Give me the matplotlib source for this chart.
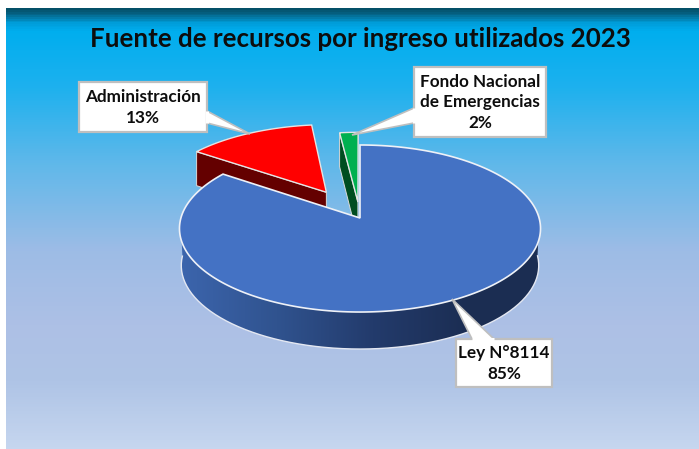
import numpy as np
import matplotlib
matplotlib.use("Agg")
import matplotlib.pyplot as plt
from matplotlib.colors import LinearSegmentedColormap
from matplotlib.patches import Polygon, Rectangle

# ------------------- data -------------------
title = "Fuente de recursos por ingreso utilizados 2023"
categories = ["Ley N°8114", "Administración", "Fondo Nacional\nde Emergencias"]
shares = [84.7, 13.4, 1.9]          # percent
explode = [0.0, 0.38, 0.2]
face_colors = ["#4472c4", "#ff0000", "#00b050"]
wall_colors = ["#1b2d52", "#640000", "#004d20"]

# picture geometry, in pixels
W, H = 699, 449
APEX_X, APEX_Y = 360.0, 218.0
RX, RY, PERSP = 179.1, 82.2, 0.1258
DEPTH = 37


def project(u, v, drop=0.0):
    # tilted disk coordinates -> pixels, the far side comes out smaller
    w = 1 + PERSP * v
    x = APEX_X + RX * u / w
    y = APEX_Y - RY * v / w
    if drop:
        x = APEX_X + (x - APEX_X) * 0.99
        y = y + drop
    return np.column_stack([x, y])


def slice_rim(start, end, exp):
    # angles in degrees clockwise from 12 o'clock
    mid = np.radians((start + end) / 2)
    off_u, off_v = exp * np.sin(mid), exp * np.cos(mid)
    t = np.radians(np.linspace(start, end, 240))
    return np.sin(t) + off_u, np.cos(t) + off_v, off_u, off_v


plt.rcParams["font.family"] = ["Lato", "DejaVu Sans"]
fig = plt.figure(figsize=(W / 100, H / 100), dpi=100)
ax = fig.add_axes([0, 0, 1, 1])
ax.axis("off")

# background gradient with the dark band along the top
bg = LinearSegmentedColormap.from_list("bg", [
    (0.0, "#045068"), (0.012, "#04668a"), (0.03, "#009cd8"), (0.05, "#00aeef"),
    (0.18, "#1eb1ee"), (0.35, "#5fb8ea"), (0.55, "#9dbce6"), (0.72, "#adc0e5"),
    (0.85, "#afc4e6"), (1.0, "#c6d6ef")])
grad = np.linspace(0, 1, 441).reshape(-1, 1)
ax.imshow(grad, cmap=bg, extent=[6, W, H, 8], aspect="auto", zorder=0)

# slice angles from the shares
edges = np.concatenate([[0], np.cumsum(shares)]) * 3.6

# red and green slices first, the blue one lies over their walls
for i in [1, 2]:
    us, vs, ou, ov = slice_rim(edges[i], edges[i + 1], explode[i])
    rim = project(us, vs)
    apex = project(np.array([ou]), np.array([ov]))
    # cut face along the first edge, it is the one facing the viewer
    wall = np.vstack([rim[0], apex, apex + [0, DEPTH], rim[0] + [0, DEPTH - 3]])
    ax.add_patch(Polygon(wall, closed=True, fc=wall_colors[i], ec="#d9d9d9", lw=0.7, zorder=2))
    ax.add_patch(Polygon(np.vstack([apex, rim]), closed=True, fc=face_colors[i],
                         ec="#e4e4e4", lw=1.0, zorder=3))

# blue slice: outer wall is a horizontal gradient clipped to the rim band
us, vs, ou, ov = slice_rim(edges[0], edges[1], explode[0])
top = project(us, vs)
low = project(us, vs, DEPTH)
front = vs < 0.0
band = Polygon(np.vstack([top[front], low[front][::-1]]), closed=True, fc="none", ec="none",
               transform=ax.transData)
ax.add_patch(band)
shade = LinearSegmentedColormap.from_list("shade", ["#3c65ad", "#30538f", "#233b6c", wall_colors[0]])
wall_img = ax.imshow(np.linspace(0, 1, 256).reshape(1, -1), cmap=shade, extent=[180, 470, 360, 200],
                     aspect="auto", zorder=4)
wall_img.set_clip_path(band)
# right of the gradient stays the darkest colour
dark_img = ax.imshow([[0]], cmap=LinearSegmentedColormap.from_list("d", [wall_colors[0]] * 2),
                     extent=[469, 545, 360, 200], aspect="auto", zorder=4)
dark_img.set_clip_path(band)
ax.plot(low[front, 0], low[front, 1], color="#e4e8f2", lw=1.0, zorder=5)
ax.add_patch(Polygon(np.vstack([[APEX_X, APEX_Y], top]), closed=True, fc=face_colors[0],
                     ec="#eef1f7", lw=1.2, zorder=6))

# title
ax.text(360.5, 39, title, ha="center", va="center", fontsize=18.6, fontweight="bold",
        color="#0d0d0d", zorder=8)


def callout(x0, y0, x1, y1, pointer, text):
    # box with a wedge running out to the slice, one outline for both
    ax.add_patch(Rectangle((x0, y0), x1 - x0, y1 - y0, fc="white", ec="#bfbfbf", lw=1.6, zorder=9))
    ax.add_patch(Polygon(pointer, closed=True, fc="white", ec="#bfbfbf", lw=1.2, zorder=10))
    # white over the seam between wedge and box
    ax.plot([pointer[0][0], pointer[2][0]], [pointer[0][1], pointer[2][1]], color="white", lw=2.2,
            zorder=11, solid_capstyle="butt")
    ax.text((x0 + x1) / 2, (y0 + y1) / 2 + 0.5, text, ha="center", va="center", fontsize=12.3,
            fontweight="bold", color="#0d0d0d", linespacing=1.34, zorder=12)


labels = [f"{c}\n{round(s)}%" for c, s in zip(categories, shares)]
callout(456, 339, 552, 387, [(472, 339), (452, 299), (494, 339)], labels[0])
callout(79, 82, 207, 132, [(207, 111), (250, 134), (207, 123)], labels[1])
callout(414, 67, 546, 137, [(414, 108), (352, 135), (414, 123)], labels[2])

ax.set_xlim(0, W)
ax.set_ylim(H, 0)
fig.savefig("out.png", dpi=100)
